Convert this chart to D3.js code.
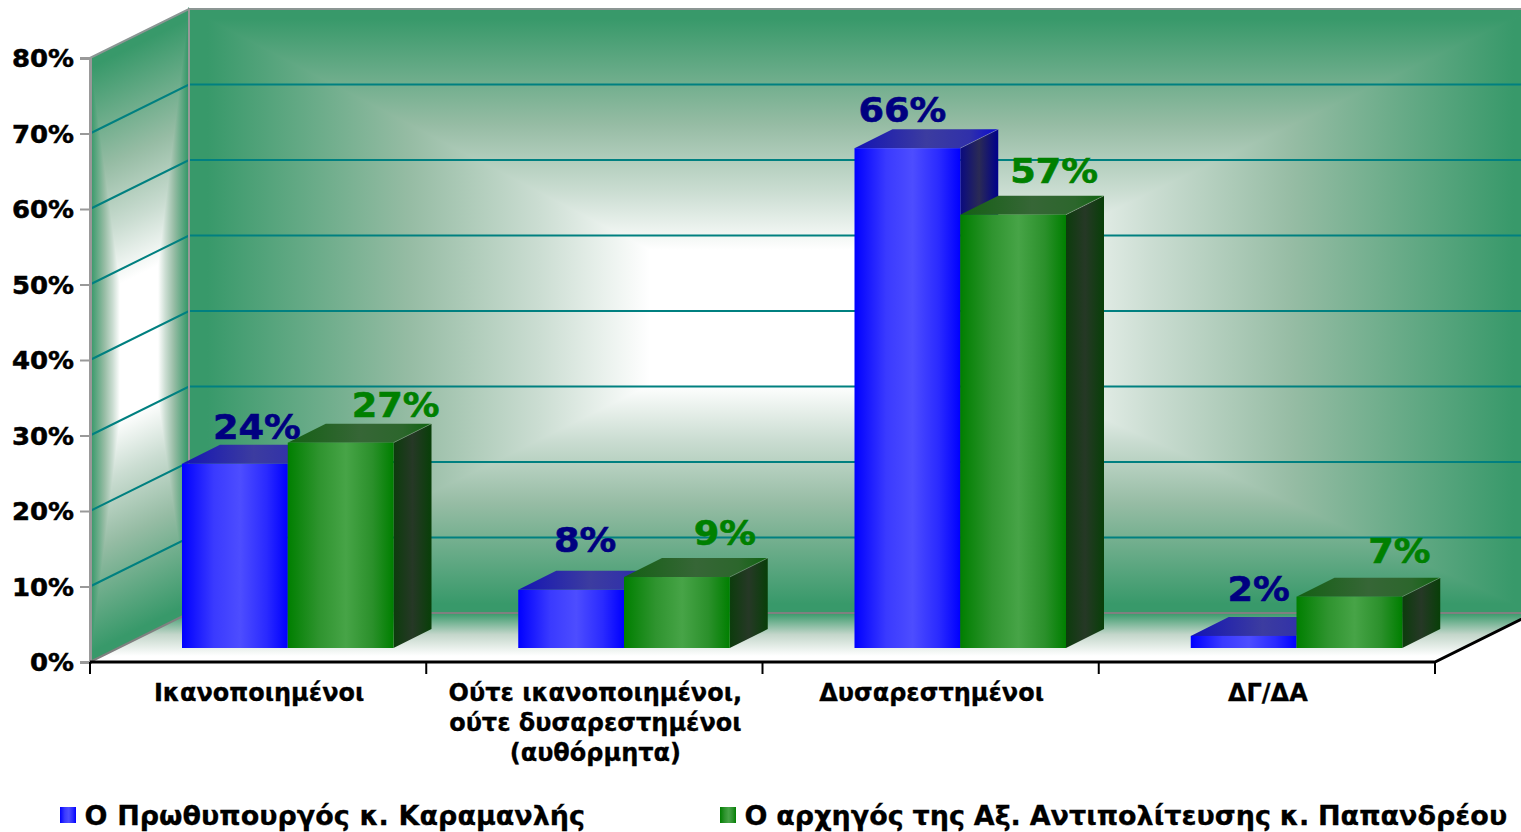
<!DOCTYPE html>
<html>
<head>
<meta charset="utf-8">
<title>chart</title>
<script src="https://cdn.jsdelivr.net/npm/d3@7"></script>
<style>
html, body { margin: 0; padding: 0; background: #fff; overflow: hidden; }
text { font-family: "DejaVu Sans", sans-serif; font-weight: bold; }
</style>
</head>
<body>
<div id="chart"></div>
<script>
// values, bars are a bit off the rounded labels
var categories = ["Ικανοποιημένοι", "Ούτε ικανοποιημένοι,|ούτε δυσαρεστημένοι|(αυθόρμητα)", "Δυσαρεστημένοι", "ΔΓ/ΔΑ"];
var seriesNames = ["Ο Πρωθυπουργός κ. Καραμανλής", "Ο αρχηγός της Αξ. Αντιπολίτευσης κ. Παπανδρέου"];
var pm = [24.4, 7.7, 66.2, 1.6];
var opposition = [27.2, 9.4, 57.4, 6.8];
var yTicks = [0, 10, 20, 30, 40, 50, 60, 70, 80];

// labels were placed by hand in the original: [dx, dy] from the bar's front top centre
var labelNudge = [
    [[22, -25], [14, -38], [-5, -26], [15, -35]],
    [[55, -26], [48, -32], [41, -32], [50, -34]]
];

var width = 1521,
    height = 832;

var wallDx = 99, wallDy = 49;     // depth of the floor
var barDx = 38, barDy = 19;       // depth of a bar
var barLift = 14;                 // bars stand a little inside the floor

var y = d3.scaleLinear().domain([0, 80]).range([662, 58]);
var x = d3.scaleBand().domain(categories).range([90, 1435]);
var xBar = d3.scaleBand().domain([0, 1]).range([92, 303.5]);

var green = "#38996a";

var svg = d3.select("#chart").append("svg")
    .attr("width", width)
    .attr("height", height)
    .style("display", "block");

var defs = svg.append("defs");

function hGrad(id, stops) {
    var g = defs.append("linearGradient").attr("id", id);
    stops.forEach(function (s) {
        g.append("stop").attr("offset", s[0]).attr("stop-color", s[1]);
    });
}

hGrad("blueFront", [[0, "#0000ff"], [0.3, "#3a3aff"], [0.55, "#4d4dff"], [0.8, "#2a2aff"], [1, "#0000ff"]]);
hGrad("blueSide", [[0, "#0a0a80"], [0.5, "#2a2a55"], [1, "#00008c"]]);
hGrad("blueTop", [[0, "#1414b4"], [0.5, "#3c3ca0"], [0.8, "#3030aa"], [1, "#0a0ad2"]]);
hGrad("greenFront", [[0, "#007f00"], [0.3, "#2f942f"], [0.55, "#47a447"], [0.8, "#2b902b"], [1, "#007f00"]]);
hGrad("greenSide", [[0, "#0c3c0c"], [0.5, "#263826"], [1, "#083f08"]]);
hGrad("greenTop", [[0, "#146014"], [0.5, "#366636"], [0.8, "#2c662c"], [1, "#0f640f"]]);

// rectangular gradient: four trapezoids round a white middle
function wallGradient(group, id, rect, inner) {
    var x0 = rect[0], y0 = rect[1], x1 = rect[2], y1 = rect[3];
    var ix0 = inner[0], iy0 = inner[1], ix1 = inner[2], iy1 = inner[3];
    var sides = [
        { g: [x0, 0, ix0, 0], p: [[x0, y0], [ix0, iy0], [ix0, iy1], [x0, y1]], sw: 2 },
        { g: [x1, 0, ix1, 0], p: [[x1, y0], [ix1, iy0], [ix1, iy1], [x1, y1]], sw: 2 },
        { g: [0, y0, 0, iy0], p: [[x0, y0], [x1, y0], [ix1, iy0], [ix0, iy0]], sw: 0 },
        { g: [0, y1, 0, iy1], p: [[x0, y1], [x1, y1], [ix1, iy1], [ix0, iy1]], sw: 0 }
    ];
    group.append("rect")
        .attr("x", ix0 - 1).attr("y", iy0 - 1)
        .attr("width", ix1 - ix0 + 2).attr("height", iy1 - iy0 + 2)
        .attr("fill", "#fff");
    sides.forEach(function (s, i) {
        var lg = defs.append("linearGradient")
            .attr("id", id + i)
            .attr("gradientUnits", "userSpaceOnUse")
            .attr("x1", s.g[0]).attr("y1", s.g[1])
            .attr("x2", s.g[2]).attr("y2", s.g[3]);
        lg.append("stop").attr("offset", 0.04).attr("stop-color", green);
        lg.append("stop").attr("offset", 0.48).attr("stop-color", "#96bca4");
        lg.append("stop").attr("offset", 0.76).attr("stop-color", "#cbddd2");
        lg.append("stop").attr("offset", 1).attr("stop-color", "#fff");
        // the left and right pieces run under the others so no seam shows on the ridges
        group.append("polygon")
            .attr("points", s.p.join(" "))
            .attr("fill", "url(#" + id + i + ")")
            .attr("stroke", s.sw ? "url(#" + id + i + ")" : "none")
            .attr("stroke-width", s.sw);
    });
}

var left = x.range()[0], right = x.range()[1];
var backLeft = left + wallDx, backRight = right + wallDx;
var yTop = y(80), yBottom = y(0);

// back wall
var back = svg.append("g");
wallGradient(back, "back", [backLeft, yTop - wallDy, backRight, yBottom - wallDy], [650, 250, 1030, 385]);

// side wall, same gradient skewed along the depth
var sideH = yBottom - yTop;
var side = svg.append("g")
    .attr("transform", "matrix(1," + (-wallDy / wallDx) + ",0,1," + left + "," + yTop + ")");
wallGradient(side, "side", [0, 0, wallDx, sideH], [30, 241, 68, 376]);

// floor
var floorGrad = defs.append("linearGradient").attr("id", "floor")
    .attr("gradientUnits", "userSpaceOnUse")
    .attr("x1", 0).attr("y1", yBottom - wallDy).attr("x2", 0).attr("y2", yBottom - 6);
floorGrad.append("stop").attr("offset", 0).attr("stop-color", green);
floorGrad.append("stop").attr("offset", 0.5).attr("stop-color", "#c3d6ca");
floorGrad.append("stop").attr("offset", 1).attr("stop-color", "#ffffff");
svg.append("polygon")
    .attr("points", [[left, yBottom], [backLeft, yBottom - wallDy], [backRight, yBottom - wallDy], [right, yBottom]].join(" "))
    .attr("fill", "url(#floor)");

// grid lines, 0 and 80 are the wall edges
svg.append("g").selectAll("path")
    .data(yTicks.slice(1, -1))
    .enter().append("path")
    .attr("d", function (d) {
        return "M" + left + "," + y(d) + "L" + backLeft + "," + (y(d) - wallDy) + "H" + backRight;
    })
    .attr("fill", "none")
    .attr("stroke", "#008080")
    .attr("stroke-width", 2);

// wall edges
var edges = svg.append("g").attr("fill", "none");
edges.append("path")
    .attr("d", "M" + left + "," + yTop + "L" + backLeft + "," + (yTop - wallDy) + "H" + backRight)
    .attr("stroke", "#8c9694").attr("stroke-width", 2);
edges.append("path")
    .attr("d", "M" + backLeft + "," + (yTop - wallDy) + "V" + (yBottom - wallDy))
    .attr("stroke", "#999").attr("stroke-width", 2);
edges.append("path")
    .attr("d", "M" + left + "," + yBottom + "L" + backLeft + "," + (yBottom - wallDy) + "H" + backRight)
    .attr("stroke", "#808080").attr("stroke-width", 2);

// y axis
var yAxis = svg.append("g")
    .attr("transform", "translate(" + left + ",0)")
    .call(d3.axisLeft(y).tickValues(yTicks).tickFormat(function (d) { return d + "%"; }).tickSize(10).tickPadding(6));
yAxis.select(".domain").attr("stroke", "#999").attr("stroke-width", 3);
yAxis.selectAll(".tick line").attr("stroke", "#999").attr("stroke-width", 2);
yAxis.selectAll(".tick text")
    .attr("font-family", null)
    .attr("font-size", 24)
    .attr("fill", "#000")
    .attr("stroke", "#000")
    .attr("stroke-width", 0.5)
    .attr("x", -16 / 1.08)
    .attr("dy", "0.37em")
    .attr("transform", "scale(1.08,1)");

// bars
var seriesData = [pm, opposition];
var fills = ["blue", "green"];
var labelColors = ["#000080", "#008000"];

seriesData.forEach(function (values, s) {
    var g = svg.append("g").attr("class", "series" + s);
    var bars = g.selectAll("g")
        .data(values)
        .enter().append("g");

    function xl(i) { return x(categories[i]) + xBar(s); }
    function xr(i) { return xl(i) + xBar.bandwidth(); }
    function yb() { return y(0) - barLift; }
    function yt(d) { return yb() - (y(0) - y(d)); }

    bars.append("polygon")
        .attr("points", function (d, i) {
            return [[xl(i), yt(d)], [xl(i) + barDx, yt(d) - barDy], [xr(i) + barDx, yt(d) - barDy], [xr(i), yt(d)]].join(" ");
        })
        .attr("fill", "url(#" + fills[s] + "Top)");
    bars.append("polygon")
        .attr("points", function (d, i) {
            return [[xr(i), yt(d)], [xr(i) + barDx, yt(d) - barDy], [xr(i) + barDx, yb() - barDy], [xr(i), yb()]].join(" ");
        })
        .attr("fill", "url(#" + fills[s] + "Side)");
    // thin light edge between top and side
    bars.append("line")
        .attr("x1", function (d, i) { return xr(i); })
        .attr("y1", yt)
        .attr("x2", function (d, i) { return xr(i) + barDx; })
        .attr("y2", function (d) { return yt(d) - barDy; })
        .attr("stroke", "#fff")
        .attr("stroke-opacity", 0.25);
    bars.append("rect")
        .attr("x", function (d, i) { return xl(i); })
        .attr("y", yt)
        .attr("width", xBar.bandwidth())
        .attr("height", function (d) { return yb() - yt(d); })
        .attr("fill", "url(#" + fills[s] + "Front)");
});

// value labels go over all the bars
seriesData.forEach(function (values, s) {
    svg.append("g").selectAll("text")
        .data(values)
        .enter().append("text")
        .attr("transform", function (d, i) {
            var cx = x(categories[i]) + xBar(s) + xBar.bandwidth() / 2 + labelNudge[s][i][0];
            var cy = y(0) - barLift - (y(0) - y(d)) + labelNudge[s][i][1];
            return "translate(" + cx + "," + cy + ") scale(1.08,1)";
        })
        .attr("text-anchor", "middle")
        .attr("font-size", 34)
        .attr("fill", labelColors[s])
        .attr("stroke", labelColors[s])
        .attr("stroke-width", 0.6)
        .text(function (d) { return d3.format(".0f")(d) + "%"; });
});

// x axis
var base = svg.append("g").attr("stroke", "#000").attr("fill", "none");
base.append("path")
    .attr("d", "M" + left + "," + yBottom + "H" + right + "L" + (right + wallDx) + "," + (yBottom - wallDy))
    .attr("stroke-width", 3);
var edgesX = categories.map(function (c) { return x(c); }).concat([right]);
base.selectAll("line")
    .data(edgesX)
    .enter().append("line")
    .attr("x1", function (d) { return d; })
    .attr("x2", function (d) { return d; })
    .attr("y1", yBottom)
    .attr("y2", yBottom + 12)
    .attr("stroke-width", 2);

var cat = svg.append("g").selectAll("g")
    .data(categories)
    .enter().append("g");
cat.each(function (c) {
    var lines = c.split("|");
    var cx = x(c) + x.bandwidth() / 2 + 1;
    d3.select(this).selectAll("text")
        .data(lines)
        .enter().append("text")
        .attr("x", cx)
        .attr("y", function (l, i) { return 701 + i * 30; })
        .attr("text-anchor", "middle")
        .attr("font-size", 24)
        .attr("fill", "#000")
        .attr("stroke", "#000")
        .attr("stroke-width", 0.3)
        .text(function (l) { return l; });
});

// legend
var legendX = [60, 720];
var legend = svg.append("g").selectAll("g")
    .data(seriesNames)
    .enter().append("g")
    .attr("transform", function (d, i) { return "translate(" + legendX[i] + ",807)"; });
legend.append("rect")
    .attr("width", 16)
    .attr("height", 16)
    .attr("fill", function (d, i) { return "url(#" + fills[i] + "Front)"; });
legend.append("text")
    .attr("x", 24.5)
    .attr("y", 18)
    .attr("font-size", 27)
    .attr("word-spacing", function (d, i) { return i ? -0.6 : 0.3; })
    .attr("fill", "#000")
    .attr("stroke", "#000")
    .attr("stroke-width", 0.3)
    .text(function (d) { return d; });
</script>
</body>
</html>
